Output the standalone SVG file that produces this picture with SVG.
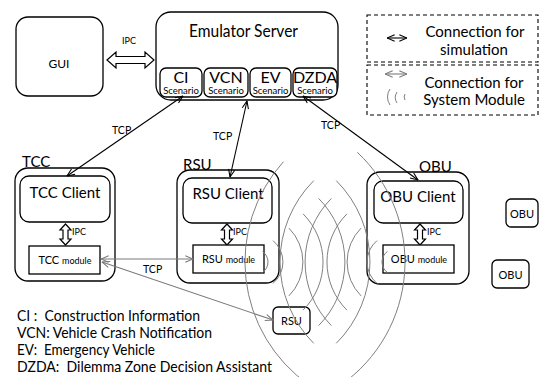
<svg xmlns="http://www.w3.org/2000/svg" width="540" height="377" viewBox="0 0 540 377">
<style>
text{font-family:Lato,"Open Sans","DejaVu Sans",sans-serif;fill:#000}
.box{fill:#fff;stroke:#000;stroke-width:1.3}
.hol{fill:#fff;stroke:#000;stroke-width:1.2;stroke-linejoin:miter}
.blk{stroke:#000;stroke-width:1.1;fill:none}
.gry{stroke:#7a7a7a;stroke-width:1.1;fill:none}
.wave{stroke:#808080;stroke-width:1;fill:none}
.dash{fill:none;stroke:#000;stroke-width:1.1;stroke-dasharray:4,3}
.m{text-anchor:middle}
.pre{white-space:pre}
</style>
<defs>
<marker id="ab" viewBox="0 0 10 10" refX="9.5" refY="5" markerWidth="9" markerHeight="9" markerUnits="userSpaceOnUse" orient="auto-start-reverse"><path d="M1,1.5 L9.5,5 L1,8.5" fill="none" stroke="#000" stroke-width="1.2"/></marker>
<marker id="ag" viewBox="0 0 10 10" refX="9.5" refY="5" markerWidth="9" markerHeight="9" markerUnits="userSpaceOnUse" orient="auto-start-reverse"><path d="M1,1.5 L9.5,5 L1,8.5" fill="none" stroke="#7a7a7a" stroke-width="1.2"/></marker>
</defs>
<rect width="540" height="377" fill="#fff"/>

<g id="legend">
<rect class="dash" x="367" y="15" width="171" height="47"/>
<rect class="dash" x="367" y="65" width="171" height="50"/>
<line class="blk" x1="387" y1="38" x2="407" y2="38" marker-start="url(#ab)" marker-end="url(#ab)"/>
<text class="m" x="475" y="37" font-size="15">Connection for</text>
<text class="m" x="474" y="55" font-size="15">simulation</text>
<line class="gry" x1="385" y1="74" x2="407" y2="74" marker-start="url(#ag)" marker-end="url(#ag)"/>
<text class="m" x="474" y="88" font-size="15">Connection for</text>
<text class="m" x="474" y="105" font-size="15">System Module</text>
<path class="wave" d="M390,89 A14,14 0 0 0 390,105 M397,92 A10,10 0 0 0 397,103 M405,94 A6,6 0 0 0 405,100"/>
</g>

<g id="gui">
<rect class="box" x="16" y="17" width="87" height="79" rx="12"/>
<text class="m" x="59" y="68" font-size="12">GUI</text>
</g>

<g id="emulator">
<rect class="box" x="156" y="12" width="182" height="88" rx="15"/>
<text x="189" y="37" font-size="16.5" textLength="109" lengthAdjust="spacingAndGlyphs">Emulator Server</text>
<rect class="box" x="160" y="68" width="42" height="29" rx="6"/>
<text class="m" x="181" y="83" font-size="16">CI</text>
<text class="m" x="181" y="94" font-size="9.5">Scenario</text>
<rect class="box" x="204" y="68" width="44" height="29" rx="6"/>
<text class="m" x="226" y="83" font-size="16">VCN</text>
<text class="m" x="226" y="94" font-size="9.5">Scenario</text>
<rect class="box" x="250" y="68" width="41" height="29" rx="6"/>
<text class="m" x="270.5" y="83" font-size="16">EV</text>
<text class="m" x="270.5" y="94" font-size="9.5">Scenario</text>
<rect class="box" x="293" y="68" width="44" height="29" rx="6"/>
<text class="m" x="315" y="83" font-size="16">DZDA</text>
<text class="m" x="315" y="94" font-size="9.5">Scenario</text>
</g>

<g id="tcc">
<rect class="box" x="15" y="168" width="100" height="113" rx="13"/>
<text x="22" y="167" font-size="15">TCC</text>
<rect class="box" x="20" y="176" width="90" height="46" rx="9"/>
<text class="m" x="65" y="198" font-size="15">TCC Client</text>
<polygon class="hol" points="65.5,224 71,230 68,230 68,239 71,239 65.5,245 60,239 63,239 63,230 60,230"/>
<text x="72" y="235" font-size="9">IPC</text>
<rect class="box" x="29" y="246" width="71" height="28"/>
<text class="m" x="65" y="264"><tspan font-size="11">TCC </tspan><tspan font-size="9">module</tspan></text>
</g>

<g id="rsu">
<rect class="box" x="177" y="170" width="102" height="113" rx="13"/>
<text x="183" y="170" font-size="15">RSU</text>
<rect class="box" x="183" y="178" width="89" height="45" rx="9"/>
<text class="m" x="228" y="199" font-size="15">RSU Client</text>
<polygon class="hol" points="227,224 232.5,230 229.5,230 229.5,239 232.5,239 227,245 221.5,239 224.5,239 224.5,230 221.5,230"/>
<text x="233" y="235" font-size="9">IPC</text>
<rect class="box" x="193" y="245" width="71" height="28"/>
<text class="m" x="228.5" y="263"><tspan font-size="11">RSU </tspan><tspan font-size="9">module</tspan></text>
</g>

<g id="obu">
<rect class="box" x="367" y="172" width="102" height="112" rx="13"/>
<text x="419" y="172" font-size="15">OBU</text>
<rect class="box" x="374" y="181" width="89" height="42" rx="9"/>
<text class="m" x="418" y="202" font-size="15">OBU Client</text>
<polygon class="hol" points="420,224 425.5,230 422.5,230 422.5,239 425.5,239 420,245 414.5,239 417.5,239 417.5,230 414.5,230"/>
<text x="427" y="235" font-size="9">IPC</text>
<rect class="box" x="383" y="245" width="71" height="28"/>
<text class="m" x="419" y="263"><tspan font-size="11">OBU </tspan><tspan font-size="9">module</tspan></text>
</g>

<g id="obu2">
<rect class="box" x="506" y="199" width="32" height="28" rx="5"/>
<text class="m" x="522" y="218" font-size="11">OBU</text>
</g>
<g id="obu3">
<rect class="box" x="492" y="260" width="37" height="28" rx="5"/>
<text class="m" x="510.5" y="279" font-size="11">OBU</text>
</g>
<g id="rsu2">
<rect class="box" x="273" y="307" width="37" height="27" rx="5"/>
<text class="m" x="291.5" y="325" font-size="11">RSU</text>
</g>

<g id="connectors">
<polygon class="hol" points="107,60 116,52 116,56.5 145,56.5 145,52 154,60 145,68 145,63.5 116,63.5 116,68"/>
<text x="122" y="44" font-size="9">IPC</text>
<line class="blk" x1="183" y1="96" x2="67" y2="176" marker-start="url(#ab)" marker-end="url(#ab)"/>
<text x="112" y="134" font-size="10.5">TCP</text>
<line class="blk" x1="247" y1="101" x2="230" y2="177" marker-start="url(#ab)" marker-end="url(#ab)"/>
<text x="213" y="140" font-size="10.5">TCP</text>
<line class="blk" x1="303" y1="96" x2="418" y2="180" marker-start="url(#ab)" marker-end="url(#ab)"/>
<text x="321" y="129" font-size="10.5">TCP</text>
<line class="gry" x1="101" y1="259" x2="193" y2="259" marker-start="url(#ag)" marker-end="url(#ag)"/>
<text x="143" y="273" font-size="10.5">TCP</text>
<line class="gry" x1="102" y1="262" x2="273" y2="320" marker-start="url(#ag)" marker-end="url(#ag)"/>
</g>

<g id="waves">
<path class="wave" d="M262.5,251.4 A13,13 0 0 1 262.5,272.6 M273,240.6 A28,28 0 0 1 273,283.4 M288.9,228.1 A48,48 0 0 1 288.9,295.9 M303.1,213.9 A68,68 0 0 1 303.1,310.1 M318.6,198.4 A90,90 0 0 1 318.6,325.6 M336.3,180.7 A115,115 0 0 1 336.3,343.3 M357.3,152.3 A150,150 0 0 1 341,384.9"/>
<path class="wave" d="M387.5,251.4 A13,13 0 0 0 387.5,272.6 M377,240.6 A28,28 0 0 0 377,283.4 M361.1,228.1 A48,48 0 0 0 361.1,295.9 M346.9,213.9 A68,68 0 0 0 346.9,310.1 M331.4,198.4 A90,90 0 0 0 331.4,325.6 M313.7,180.7 A115,115 0 0 0 313.7,343.3 M283.5,161.6 A150,150 0 0 0 309,384.9"/>
</g>

<g id="notes">
<text class="pre" x="17" y="321" font-size="15" textLength="183" lengthAdjust="spacingAndGlyphs">CI :  Construction Information</text>
<text class="pre" x="17" y="338" font-size="15" textLength="195" lengthAdjust="spacingAndGlyphs">VCN: Vehicle Crash Notification</text>
<text class="pre" x="17" y="355" font-size="15" textLength="138" lengthAdjust="spacingAndGlyphs">EV:  Emergency Vehicle</text>
<text class="pre" x="17" y="372" font-size="15" textLength="255" lengthAdjust="spacingAndGlyphs">DZDA:  Dilemma Zone Decision Assistant</text>
</g>
</svg>
